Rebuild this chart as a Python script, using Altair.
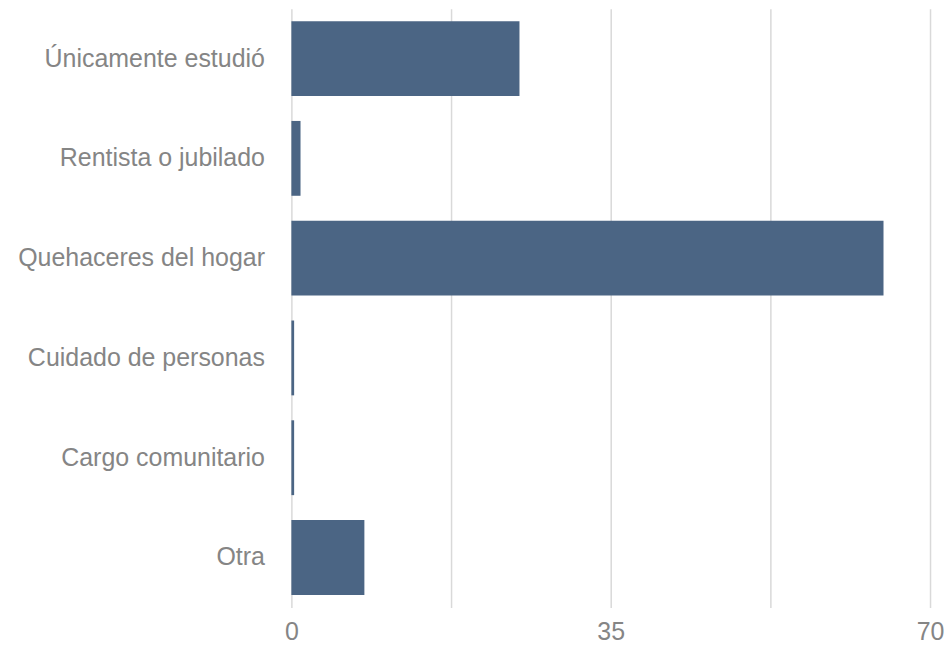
import altair as alt
import pandas as pd

categories = ["Únicamente estudió", "Rentista o jubilado", "Quehaceres del hogar",
              "Cuidado de personas", "Cargo comunitario", "Otra"]
values = [25.0, 1.0, 64.9, 0.3, 0.3, 8.0]

df = pd.DataFrame({"cat": categories, "val": values})

chart = alt.Chart(df).mark_bar(color="#4b6584").encode(
    y=alt.Y("cat:N", sort=categories, title=None,
            scale=alt.Scale(paddingInner=0.25, paddingOuter=0.125),
            axis=alt.Axis(domain=False, ticks=False, grid=False, labelFontSize=25,
                          labelColor="#858585", labelFont="Liberation Sans",
                          labelPadding=27, labelLimit=400)),
    x=alt.X("val:Q", title=None,
            scale=alt.Scale(domain=[0, 70], nice=False),
            axis=alt.Axis(values=[0, 17.5, 35, 52.5, 70], domain=False, ticks=False,
                          labelExpr="datum.value % 35 == 0 ? datum.label : ''",
                          gridColor="#d9d9d9", gridWidth=1.5, labelFontSize=25,
                          labelColor="#858585", labelFont="Liberation Sans",
                          labelPadding=12, labelFlush=False)),
).properties(
    width=640, height=600,
    padding={"left": 9, "top": 0, "right": 0, "bottom": 0},
).configure_view(stroke=None)

chart.save("out.html", embed_options={"renderer": "svg", "actions": False})
